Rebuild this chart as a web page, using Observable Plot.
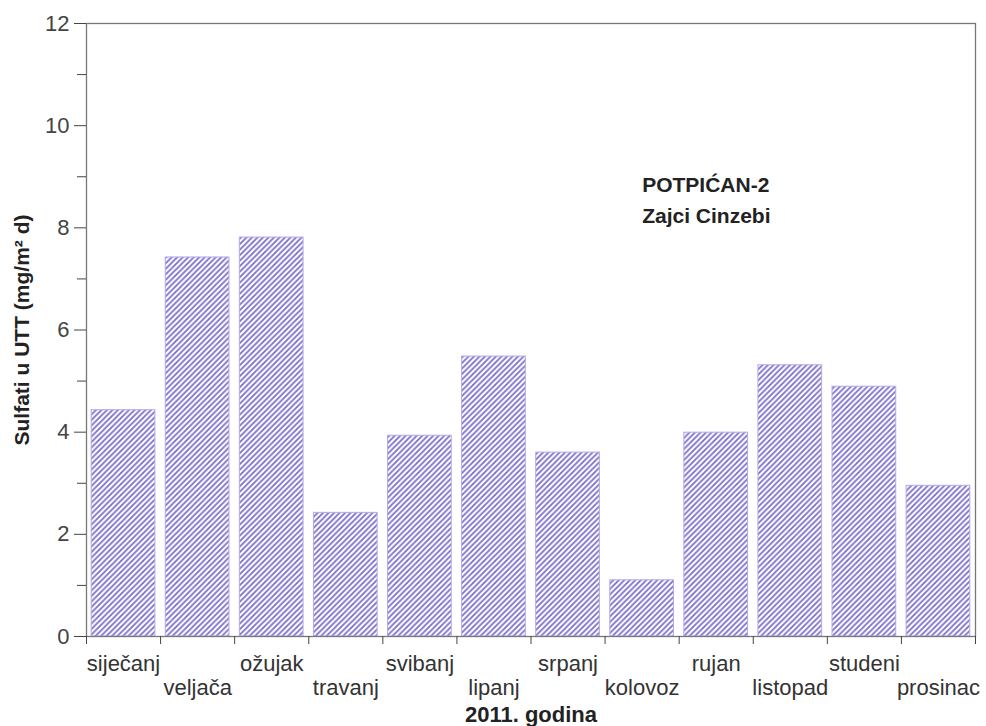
<!DOCTYPE html>
<html><head><meta charset="utf-8">
<script src="https://cdn.jsdelivr.net/npm/d3@7"></script>
<script src="https://cdn.jsdelivr.net/npm/@observablehq/plot@0.6"></script>
<style>body{margin:0;background:#fff}</style>
</head><body><div id="chart"></div>
<script>
const months = ["siječanj","veljača","ožujak","travanj","svibanj","lipanj","srpanj","kolovoz","rujan","listopad","studeni","prosinac"];
const values = [4.43, 7.42, 7.81, 2.42, 3.93, 5.48, 3.60, 1.10, 3.99, 5.31, 4.89, 2.95];
const yMajorTicks = [0, 2, 4, 6, 8, 10, 12];
const yMinorTicks = [1, 3, 5, 7, 9, 11];
const xAxisTitle = "2011. godina";
const yAxisTitle = "Sulfati u UTT (mg/m² d)";
const annotationLines = ["POTPIĆAN-2", "Zajci Cinzebi"];
const annotationAt = {x: 7.5, y: 9.12};

const data = months.map((m, i) => ({month: m, index: i, value: values[i]}));
const boundaries = d3.range(months.length + 1);
const barInset = 0.07;
const font = "'Liberation Sans', Arial, sans-serif";

function hatchDefs() {
  const ns = "http://www.w3.org/2000/svg";
  const defs = document.createElementNS(ns, "defs");
  const pat = document.createElementNS(ns, "pattern");
  const s = 5.5;
  pat.setAttribute("id", "hatch");
  pat.setAttribute("patternUnits", "userSpaceOnUse");
  pat.setAttribute("width", s);
  pat.setAttribute("height", s);
  const bg = document.createElementNS(ns, "rect");
  bg.setAttribute("width", s); bg.setAttribute("height", s); bg.setAttribute("fill", "#fbfaff");
  pat.appendChild(bg);
  const p = document.createElementNS(ns, "path");
  p.setAttribute("d", `M-1,1 L1,-1 M0,${s} L${s},0 M${s-1},${s+1} L${s+1},${s-1}`);
  p.setAttribute("stroke", "#7368c9");
  p.setAttribute("stroke-width", "1.6");
  pat.appendChild(p);
  defs.appendChild(pat);
  return defs;
}

const chart = Plot.plot({
  width: 986, height: 726,
  marginLeft: 86, marginRight: 11, marginTop: 23, marginBottom: 90,
  x: {domain: [0, 12], axis: null},
  y: {domain: [0, 12], axis: null},
  style: {fontFamily: font, background: "white", color: "#333"},
  marks: [
    hatchDefs,
    Plot.rectY(data, {x1: d => d.index + barInset, x2: d => d.index + 1 - barInset, y1: 0, y2: "value",
      fill: "url(#hatch)", stroke: "#b2abe6", strokeWidth: 1}),
    Plot.frame({stroke: "#777", strokeWidth: 1.3}),
    Plot.axisY({ticks: yMajorTicks, tickSize: 12, tickPadding: 5, fontSize: 22, color: "#444", label: null}),
    Plot.axisY({ticks: yMinorTicks, tickSize: 9, tickFormat: () => "", color: "#444", label: null}),
    Plot.axisX({ticks: boundaries, tickSize: 8, tickFormat: () => "", color: "#444", label: null}),
    Plot.text(data.filter(d => d.index % 2 === 0), {x: d => d.index + 0.5, y: 0, text: "month", dy: 27,
      fontSize: 22, fill: "#333", lineAnchor: "middle"}),
    Plot.text(data.filter(d => d.index % 2 === 1), {x: d => d.index + 0.5, y: 0, text: "month", dy: 51,
      fontSize: 22, fill: "#333", lineAnchor: "middle"}),
    Plot.text([xAxisTitle], {frameAnchor: "bottom", dy: 78, fontSize: 22, fontWeight: "bold", fill: "#222", lineAnchor: "middle"}),
    Plot.text([yAxisTitle], {frameAnchor: "left", dx: -64, rotate: -90, textAnchor: "middle", fontSize: 21, fontWeight: "bold", fill: "#222"}),
    Plot.text([annotationLines.join("\n")], {x: annotationAt.x, y: annotationAt.y, textAnchor: "start",
      lineAnchor: "top", fontSize: 21, fontWeight: "bold", fill: "#222", lineHeight: 1.45})
  ]
});
document.getElementById("chart").appendChild(chart);
</script>
</body></html>
